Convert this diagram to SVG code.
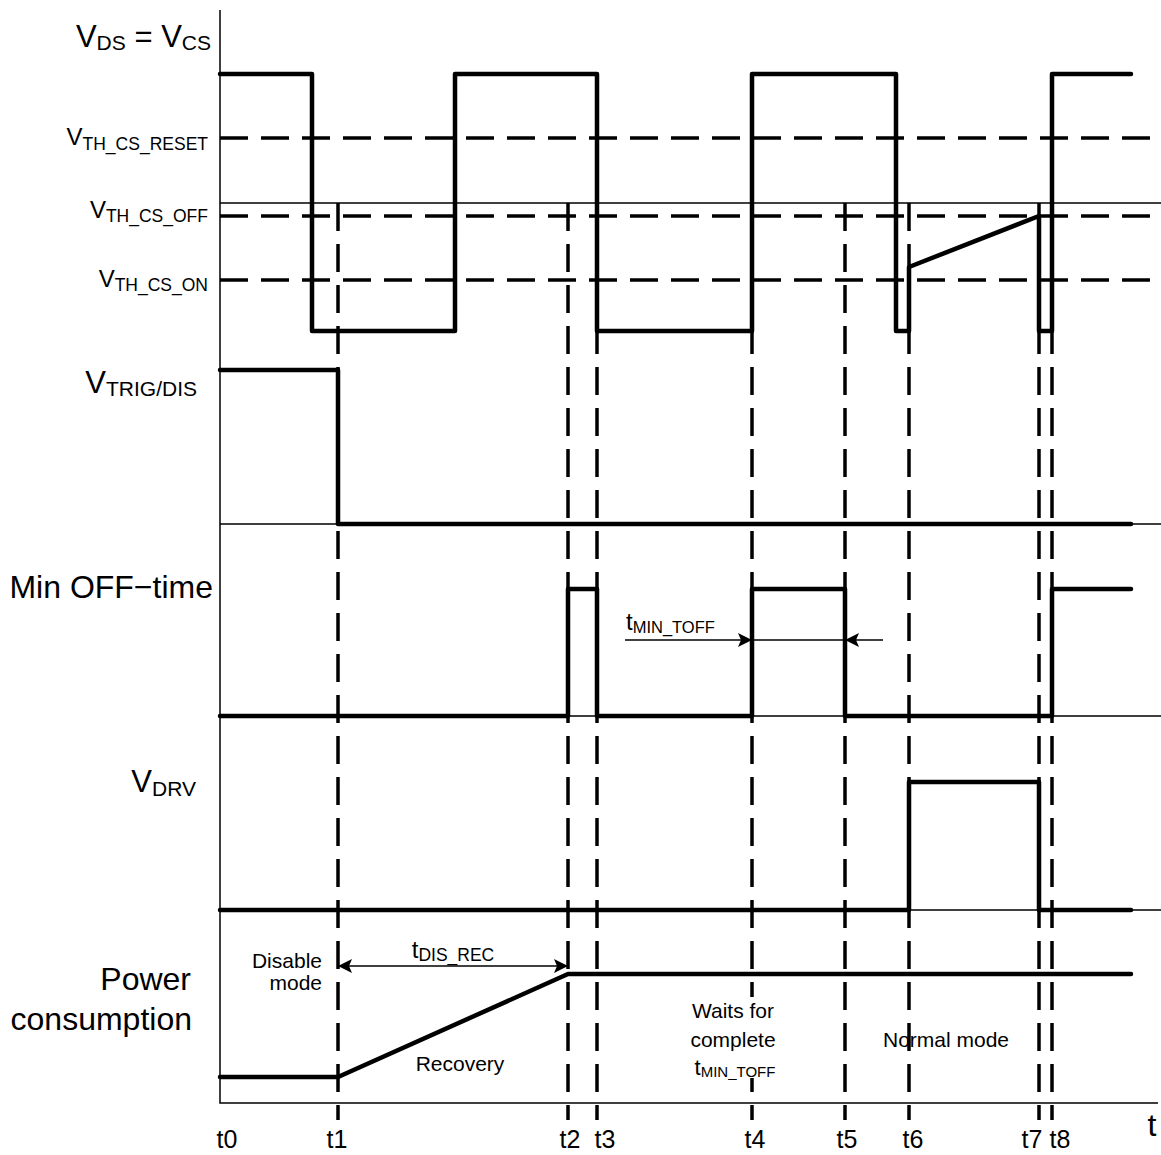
<svg xmlns="http://www.w3.org/2000/svg" width="1161" height="1155" viewBox="0 0 1161 1155">
<style>
text{font-family:"Liberation Sans",Arial,sans-serif;fill:#000}
.thin{fill:none;stroke:#000;stroke-width:1.5}
.wave{fill:none;stroke:#000;stroke-width:4.5;stroke-linejoin:round;stroke-linecap:round}
.dash{fill:none;stroke:#000;stroke-width:3.5;stroke-dasharray:28 13}
.arr{fill:none;stroke:#000;stroke-width:1.5}
.lbl{font-size:32px}
.sv{font-size:31px}
.ss{font-size:21px}
.tv{font-size:24px}
.ts{font-size:17.5px}
.ann{font-size:21px}
.tick{font-size:25px;text-anchor:middle}
</style>
<defs>
<marker id="ah" viewBox="0 0 14 14" refX="14" refY="7" markerWidth="14" markerHeight="14" markerUnits="userSpaceOnUse" orient="auto-start-reverse">
<path d="M0,0 L14,7 L0,14 L3,7 Z" fill="#000"/>
</marker>
</defs>
<rect width="1161" height="1155" fill="#fff"/>

<g id="frame">
<path class="thin" d="M220,10 V1103 H1158"/>
<path class="thin" d="M220,203 H1161 M220,524 H1161 M220,716 H1161 M220,910 H1161"/>
</g>

<g id="thresholds">
<path class="dash" d="M220,138 H1161"/>
<path class="dash" d="M220,216 H1161"/>
<path class="dash" d="M220,280 H1161"/>
</g>

<g id="time-markers">
<path class="dash" d="M338,203 V1120"/>
<path class="dash" d="M568,203 V1120"/>
<path class="dash" d="M597,203 V1120"/>
<path class="dash" d="M752,203 V1120"/>
<path class="dash" d="M845,203 V1120"/>
<path class="dash" d="M909,203 V1120"/>
<path class="dash" d="M1039,203 V1120"/>
<path class="dash" d="M1052,203 V1120"/>
</g>

<g id="vds">
<path class="wave" d="M220,74 H312 V331 H455 V74 H597 V331 H752 V74 H896 V331 H909 V267 L1039,216 V331 H1052 V74 H1131"/>
<text x="211" y="47" text-anchor="end"><tspan class="sv">V</tspan><tspan class="ss" dy="3">DS</tspan><tspan class="sv" dy="-3"> = V</tspan><tspan class="ss" dy="3">CS</tspan></text>
<text x="208" y="145" text-anchor="end"><tspan class="tv">V</tspan><tspan class="ts" dy="5">TH_CS_RESET</tspan></text>
<text x="208" y="218" text-anchor="end"><tspan class="tv">V</tspan><tspan class="ts" dy="4">TH_CS_OFF</tspan></text>
<text x="208" y="287" text-anchor="end"><tspan class="tv">V</tspan><tspan class="ts" dy="4">TH_CS_ON</tspan></text>
</g>

<g id="vtrig">
<path class="wave" d="M220,370 H338 V524 H1131"/>
<text x="197" y="393" text-anchor="end"><tspan class="sv">V</tspan><tspan class="ss" dy="3">TRIG/DIS</tspan></text>
</g>

<g id="minoff">
<path class="wave" d="M220,716 H568 V589 H597 V716 H752 V589 H845 V716 H1052 V589 H1131"/>
<text class="lbl" x="213" y="598" text-anchor="end">Min OFF−time</text>
</g>

<g id="vdrv">
<path class="wave" d="M220,910 H909 V782 H1039 V910 H1131"/>
<text x="196" y="792" text-anchor="end"><tspan class="sv">V</tspan><tspan class="ss" dy="4">DRV</tspan></text>
</g>

<g id="power">
<path class="wave" d="M220,1077 H338 L568,974 H1131"/>
<text class="lbl" x="191" y="990" text-anchor="end">Power</text>
<text class="lbl" x="192" y="1030" text-anchor="end">consumption</text>
</g>

<g id="connectors">
<path class="arr" d="M625,640 H752" marker-end="url(#ah)"/>
<path class="arr" d="M752,640 H845"/>
<path class="arr" d="M883,640 H845" marker-end="url(#ah)"/>
<path class="arr" d="M338,966 H568" marker-start="url(#ah)" marker-end="url(#ah)"/>
</g>

<g id="annotations">
<text x="626" y="630"><tspan class="tv">t</tspan><tspan style="font-size:16.5px" dy="3">MIN_TOFF</tspan></text>
<text x="453" y="958" text-anchor="middle"><tspan class="tv">t</tspan><tspan class="ts" dy="3">DIS_REC</tspan></text>
<text class="ann" x="322" y="968" text-anchor="end">Disable</text>
<text class="ann" x="322" y="990" text-anchor="end">mode</text>
<text class="ann" x="460" y="1071" text-anchor="middle">Recovery</text>
<g id="waits-note">
<rect x="687" y="997" width="92" height="81" fill="#fff"/>
<text class="ann" x="733" y="1018" text-anchor="middle">Waits for</text>
<text class="ann" x="733" y="1047" text-anchor="middle">complete</text>
<text x="735" y="1075" text-anchor="middle"><tspan style="font-size:22px">t</tspan><tspan style="font-size:15px" dy="2">MIN_TOFF</tspan></text>
</g>
<text class="ann" x="946" y="1047" text-anchor="middle">Normal mode</text>
</g>

<g id="time-labels">
<text class="tick" x="227" y="1148">t0</text>
<text class="tick" x="337" y="1148">t1</text>
<text class="tick" x="570" y="1148">t2</text>
<text class="tick" x="605" y="1148">t3</text>
<text class="tick" x="755" y="1148">t4</text>
<text class="tick" x="847" y="1148">t5</text>
<text class="tick" x="913" y="1148">t6</text>
<text class="tick" x="1032" y="1148">t7</text>
<text class="tick" x="1060" y="1148">t8</text>
<text x="1152" y="1136" text-anchor="middle" style="font-size:32px">t</text>
</g>
</svg>
